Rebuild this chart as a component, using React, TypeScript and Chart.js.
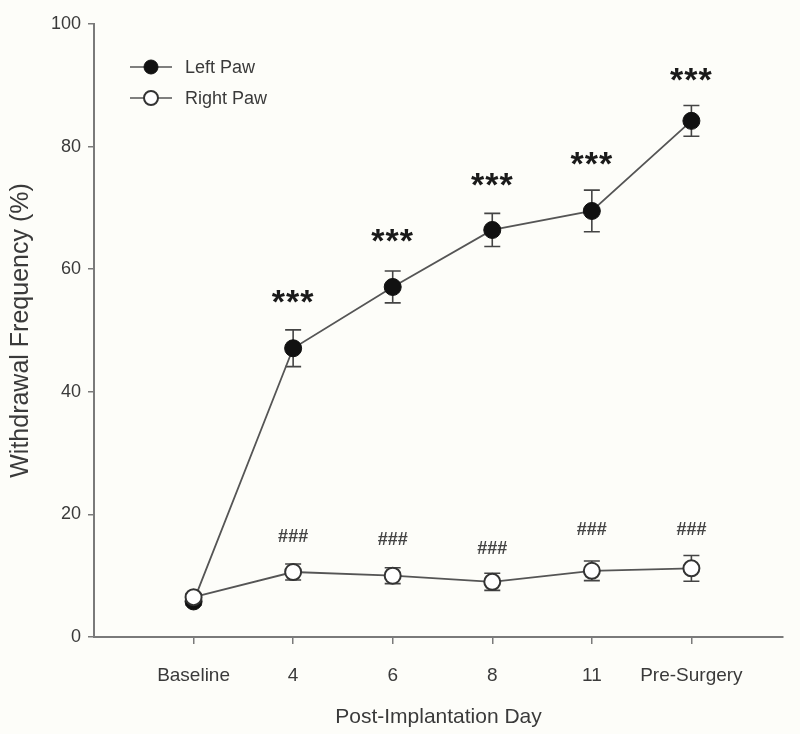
import React, { useEffect, useRef } from "react";
import { Chart, registerables } from "chart.js";

Chart.register(...registerables);

const categories = ["Baseline", "4", "6", "8", "11", "Pre-Surgery"];
const leftPaw = [5.8, 47.1, 57.1, 66.4, 69.5, 84.2];
const leftErr = [0.6, 3.0, 2.6, 2.7, 3.4, 2.5];
const rightPaw = [6.5, 10.6, 10.0, 9.0, 10.8, 11.2];
const rightErr = [0.6, 1.3, 1.3, 1.4, 1.6, 2.1];
const leftMarks = ["", "***", "***", "***", "***", "***"];
const leftMarkY = [0, 56.1, 66.0, 75.2, 78.6, 92.3];
const rightMarks = ["", "###", "###", "###", "###", "###"];
const rightMarkY = [0, 16.3, 15.8, 14.4, 17.4, 17.4];
const yTicks = [0, 20, 40, 60, 80, 100];
const legendLabels = ["Left Paw", "Right Paw"];

const FONT = "'Liberation Sans', Arial, sans-serif";
const AXIS = "#7a7a7a";
const TEXT = "#3a3a3a";

const bgPlugin = {
  id: "bg",
  beforeDraw(chart: any) {
    const ctx = chart.ctx;
    ctx.save();
    ctx.fillStyle = "#fdfdf9";
    ctx.fillRect(0, 0, chart.width, chart.height);
    ctx.restore();
  },
};

const errorPlugin = {
  id: "errbars",
  beforeDatasetsDraw(chart: any) {
    const ctx = chart.ctx;
    const xs = chart.scales.x;
    const ys = chart.scales.y;
    const sets = [
      [leftPaw, leftErr],
      [rightPaw, rightErr],
    ];
    ctx.save();
    ctx.strokeStyle = "#444";
    ctx.lineWidth = 1.6;
    sets.forEach(([vals, errs]) => {
      vals.forEach((v: number, i: number) => {
        const x = xs.getPixelForValue(i);
        const y1 = ys.getPixelForValue(v + errs[i]);
        const y2 = ys.getPixelForValue(v - errs[i]);
        ctx.beginPath();
        ctx.moveTo(x, y1);
        ctx.lineTo(x, y2);
        ctx.moveTo(x - 8, y1);
        ctx.lineTo(x + 8, y1);
        ctx.moveTo(x - 8, y2);
        ctx.lineTo(x + 8, y2);
        ctx.stroke();
      });
    });
    ctx.restore();
  },
};

const marksPlugin = {
  id: "marks",
  afterDatasetsDraw(chart: any) {
    const ctx = chart.ctx;
    const xs = chart.scales.x;
    const ys = chart.scales.y;
    ctx.save();
    ctx.textAlign = "center";
    ctx.textBaseline = "alphabetic";
    ctx.fillStyle = "#1a1a1a";
    ctx.font = `bold 34px ${FONT}`;
    (ctx as any).letterSpacing = "1px";
    leftMarks.forEach((m, i) => {
      if (!m) return;
      const x = xs.getPixelForValue(i);
      const y = ys.getPixelForValue(leftMarkY[i]);
      ctx.fillText(m, x, y + 0.58 * 34);
    });
    (ctx as any).letterSpacing = "0px";
    ctx.fillStyle = "#444";
    ctx.font = `bold 18px ${FONT}`;
    ctx.textBaseline = "middle";
    rightMarks.forEach((m, i) => {
      if (!m) return;
      const x = xs.getPixelForValue(i);
      const y = ys.getPixelForValue(rightMarkY[i]);
      ctx.fillText(m, x, y);
    });
    ctx.restore();
  },
};

const legendPlugin = {
  id: "customLegend",
  afterDraw(chart: any) {
    const ctx = chart.ctx;
    const x0 = 130;
    const rows = [67, 98];
    ctx.save();
    chart.data.datasets.forEach((ds: any) => {
      const idx = legendLabels.indexOf(ds.label);
      const y = rows[idx];
      ctx.strokeStyle = "#555";
      ctx.lineWidth = 1.6;
      ctx.beginPath();
      ctx.moveTo(x0, y);
      ctx.lineTo(x0 + 42, y);
      ctx.stroke();
      ctx.beginPath();
      ctx.arc(x0 + 21, y, 7, 0, Math.PI * 2);
      ctx.fillStyle = ds.pointBackgroundColor;
      ctx.fill();
      ctx.lineWidth = ds.pointBorderWidth;
      ctx.strokeStyle = ds.pointBorderColor;
      ctx.stroke();
      ctx.fillStyle = TEXT;
      ctx.font = `18px ${FONT}`;
      ctx.textAlign = "left";
      ctx.textBaseline = "middle";
      ctx.fillText(ds.label, x0 + 55, y + 1);
    });
    ctx.restore();
  },
};

export default function App() {
  const ref = useRef<HTMLCanvasElement>(null);
  useEffect(() => {
    document.body.style.margin = "0";
    const canvas = ref.current!;
    const chart = new Chart(canvas, {
      type: "line",
      data: {
        datasets: [
          {
            label: legendLabels[0],
            data: leftPaw.map((v, i) => ({ x: i, y: v })),
            borderColor: "#555",
            borderWidth: 1.8,
            pointRadius: 8.5,
            pointBackgroundColor: "#111",
            pointBorderColor: "#111",
            pointBorderWidth: 1,
            order: 1,
          },
          {
            label: legendLabels[1],
            data: rightPaw.map((v, i) => ({ x: i, y: v })),
            borderColor: "#555",
            borderWidth: 1.8,
            pointRadius: 8,
            pointBackgroundColor: "#ffffff",
            pointBorderColor: "#333",
            pointBorderWidth: 2,
            order: 0,
          },
        ],
      },
      options: {
        responsive: false,
        animation: false,
        layout: { padding: { left: 0, right: 17, top: 24, bottom: 0 } },
        plugins: {
          legend: { display: false },
          tooltip: { enabled: false },
        },
        scales: {
          x: {
            type: "linear",
            min: -1,
            max: 5.92,
            afterBuildTicks: (s: any) => {
              s.ticks = categories.map((_, i) => ({ value: i }));
            },
            afterFit: (s: any) => {
              s.height = 97;
            },
            ticks: {
              autoSkip: false,
              maxRotation: 0,
              padding: 20,
              color: TEXT,
              font: { family: FONT, size: 19 },
              callback: (v: any) => categories[v as number] ?? "",
            },
            grid: {
              display: true,
              drawOnChartArea: false,
              drawTicks: true,
              tickLength: 7,
              color: AXIS,
              lineWidth: 1.5,
            },
            border: { display: true, color: AXIS, width: 2 },
            title: {
              display: true,
              text: "Post-Implantation Day",
              color: TEXT,
              font: { family: FONT, size: 21 },
              padding: { top: 0, bottom: 4 },
            },
          },
          y: {
            type: "linear",
            min: 0,
            max: 100,
            afterBuildTicks: (s: any) => {
              s.ticks = yTicks.map((v) => ({ value: v }));
            },
            afterFit: (s: any) => {
              s.width = 94;
            },
            ticks: {
              padding: 7,
              color: TEXT,
              font: { family: FONT, size: 18 },
            },
            grid: {
              display: true,
              drawOnChartArea: false,
              drawTicks: true,
              tickLength: 6,
              color: AXIS,
              lineWidth: 1.5,
            },
            border: { display: true, color: AXIS, width: 2 },
            title: {
              display: true,
              text: "Withdrawal Frequency (%)",
              color: TEXT,
              font: { family: FONT, size: 25 },
              padding: { top: 6, bottom: 0 },
            },
          },
        },
      },
      plugins: [bgPlugin, errorPlugin, marksPlugin, legendPlugin],
    });
    return () => chart.destroy();
  }, []);
  return (
    <canvas
      ref={ref}
      width={800}
      height={734}
      style={{ display: "block", width: 800, height: 734 }}
    />
  );
}
